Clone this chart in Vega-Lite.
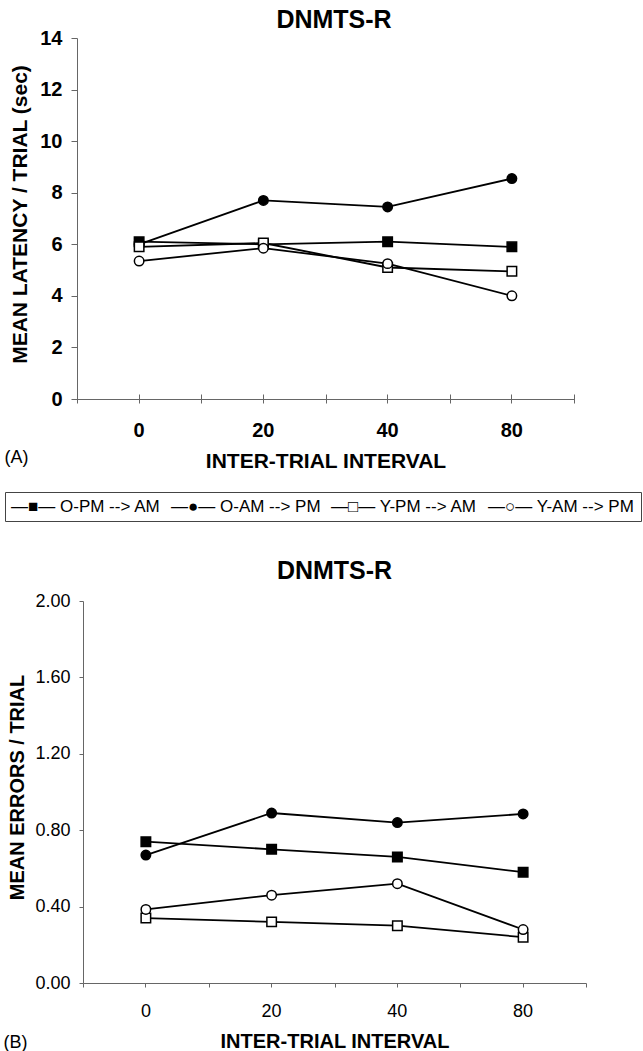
{
  "$schema": "https://vega.github.io/schema/vega-lite/v6.json",
  "padding": {"left": 3, "top": 8, "right": 0, "bottom": 3},
  "background": "white",
  "config": {
    "font": "Liberation Sans",
    "view": {"stroke": null},
    "axis": {"grid": false, "domainColor": "#666666", "tickColor": "#666666", "labelColor": "black", "titleColor": "black", "labelFont": "Liberation Sans", "titleFont": "Liberation Sans"},
    "title": {"font": "Liberation Sans", "fontSize": 25, "fontWeight": "bold", "color": "black"},
    "legend": {"title": null, "orient": "none", "legendX": -78, "legendY": 454, "direction": "horizontal", "symbolSize": 0, "symbolOpacity": 0, "symbolStrokeWidth": 0, "labelOffset": -17, "columnPadding": 10, "padding": 6, "strokeColor": "#444444", "labelFontSize": 17, "labelFont": "Liberation Sans", "labelColor": "black", "labelLimit": 0}
  },
  "datasets": {
    "latency": [
      {"series": "O-PM --> AM", "iti": 0, "value": 6.1},
      {"series": "O-PM --> AM", "iti": 20, "value": 6.0},
      {"series": "O-PM --> AM", "iti": 40, "value": 6.1},
      {"series": "O-PM --> AM", "iti": 80, "value": 5.9},
      {"series": "O-AM --> PM", "iti": 0, "value": 6.0},
      {"series": "O-AM --> PM", "iti": 20, "value": 7.7},
      {"series": "O-AM --> PM", "iti": 40, "value": 7.45},
      {"series": "O-AM --> PM", "iti": 80, "value": 8.55},
      {"series": "Y-PM --> AM", "iti": 0, "value": 5.9},
      {"series": "Y-PM --> AM", "iti": 20, "value": 6.05},
      {"series": "Y-PM --> AM", "iti": 40, "value": 5.1},
      {"series": "Y-PM --> AM", "iti": 80, "value": 4.95},
      {"series": "Y-AM --> PM", "iti": 0, "value": 5.35},
      {"series": "Y-AM --> PM", "iti": 20, "value": 5.85},
      {"series": "Y-AM --> PM", "iti": 40, "value": 5.25},
      {"series": "Y-AM --> PM", "iti": 80, "value": 4.0}
    ],
    "errors": [
      {"series": "O-PM --> AM", "iti": 0, "value": 0.74},
      {"series": "O-PM --> AM", "iti": 20, "value": 0.70},
      {"series": "O-PM --> AM", "iti": 40, "value": 0.66},
      {"series": "O-PM --> AM", "iti": 80, "value": 0.58},
      {"series": "O-AM --> PM", "iti": 0, "value": 0.67},
      {"series": "O-AM --> PM", "iti": 20, "value": 0.89},
      {"series": "O-AM --> PM", "iti": 40, "value": 0.84},
      {"series": "O-AM --> PM", "iti": 80, "value": 0.885},
      {"series": "Y-PM --> AM", "iti": 0, "value": 0.34},
      {"series": "Y-PM --> AM", "iti": 20, "value": 0.32},
      {"series": "Y-PM --> AM", "iti": 40, "value": 0.30},
      {"series": "Y-PM --> AM", "iti": 80, "value": 0.24},
      {"series": "Y-AM --> PM", "iti": 0, "value": 0.385},
      {"series": "Y-AM --> PM", "iti": 20, "value": 0.46},
      {"series": "Y-AM --> PM", "iti": 40, "value": 0.52},
      {"series": "Y-AM --> PM", "iti": 80, "value": 0.28}
    ]
  },
  "spacing": 88,
  "resolve": {"scale": {"x": "independent", "y": "independent", "shape": "shared", "fill": "shared"}},
  "vconcat": [
    {
      "title": {"text": "DNMTS-R", "dx": 5.5, "offset": -5},
      "width": 491,
      "height": 361,
      "data": {"name": "latency"},
      "resolve": {"axis": {"x": "independent"}},
      "layer": [
        {
          "mark": {"type": "line", "color": "black", "strokeWidth": 1.8},
          "encoding": {
            "x": {"field": "iti", "type": "ordinal", "bandPosition": 0.5, "scale": {"type": "band", "paddingInner": 0, "paddingOuter": 0, "range": [-6, 491]},
              "axis": {"orient": "bottom", "domain": true, "ticks": false, "tickSize": 0, "labelAngle": 0, "labelFontSize": 20, "labelFontWeight": "bold", "labelPadding": 21, "title": "INTER-TRIAL INTERVAL", "titleFontSize": 21, "titleFontWeight": "bold", "titlePadding": 10}},
            "y": {"field": "value", "type": "quantitative", "scale": {"domain": [0, 14], "nice": false},
              "axis": {"offset": 6, "values": [0, 2, 4, 6, 8, 10, 12, 14], "labelFontSize": 20, "labelFontWeight": "bold", "tickSize": 6, "labelPadding": 9, "title": "MEAN LATENCY / TRIAL (sec)", "titleFontSize": 21, "titleFontWeight": "bold", "titleX": -57, "titleY": 176, "titleAlign": "center", "titleBaseline": "middle", "titleAngle": -90}},
            "detail": {"field": "series"}
          }
        },
        {
          "mark": {"type": "point", "filled": true, "size": 90, "stroke": "black", "strokeWidth": 1.5, "opacity": 1},
          "encoding": {
            "x": {"field": "iti", "type": "ordinal", "bandPosition": 0.5,
              "axis": {"orient": "bottom", "domain": false, "labels": false, "ticks": true, "tickBand": "center", "tickSize": 9, "offset": -5, "title": null}},
            "y": {"field": "value", "type": "quantitative"},
            "shape": {"field": "series", "type": "nominal", "scale": {"domain": ["O-PM --> AM", "O-AM --> PM", "Y-PM --> AM", "Y-AM --> PM"], "range": ["square", "circle", "square", "circle"]},
              "legend": {"labelExpr": "(datum.label == 'O-PM --> AM' ? '—■— ' : datum.label == 'O-AM --> PM' ? '—●— ' : datum.label == 'Y-PM --> AM' ? '—□— ' : '—○— ') + datum.label"}},
            "fill": {"field": "series", "type": "nominal", "scale": {"domain": ["O-PM --> AM", "O-AM --> PM", "Y-PM --> AM", "Y-AM --> PM"], "range": ["black", "black", "white", "white"]},
              "legend": {"labelExpr": "(datum.label == 'O-PM --> AM' ? '—■— ' : datum.label == 'O-AM --> PM' ? '—●— ' : datum.label == 'Y-PM --> AM' ? '—□— ' : '—○— ') + datum.label"}}
          }
        },
        {
          "mark": {"type": "point", "opacity": 0},
          "encoding": {
            "x": {"field": "iti", "type": "ordinal", "bandPosition": 0.5,
              "axis": {"orient": "bottom", "domain": false, "labels": false, "ticks": true, "tickBand": "extent", "tickSize": 9, "offset": -5, "title": "(A)", "titleFontSize": 18, "titleFontWeight": "normal", "titleX": -79, "titleY": 63, "titleAlign": "left", "titleBaseline": "middle", "titleAngle": 0}},
            "y": {"field": "value", "type": "quantitative"}
          }
        }
      ]
    },
    {
      "title": {"text": "DNMTS-R", "offset": 8},
      "width": 503,
      "height": 382,
      "data": {"name": "errors"},
      "resolve": {"axis": {"x": "independent"}},
      "layer": [
        {
          "mark": {"type": "line", "color": "black", "strokeWidth": 1.8},
          "encoding": {
            "x": {"field": "iti", "type": "ordinal", "bandPosition": 0.5, "scale": {"type": "band", "paddingInner": 0, "paddingOuter": 0},
              "axis": {"orient": "bottom", "domain": true, "ticks": true, "tickBand": "center", "tickSize": 4, "labelAngle": 0, "labelFontSize": 18, "labelFontWeight": "normal", "labelPadding": 15, "title": "INTER-TRIAL INTERVAL", "titleFontSize": 20, "titleFontWeight": "bold", "titlePadding": 11}},
            "y": {"field": "value", "type": "quantitative", "scale": {"domain": [0, 2], "nice": false},
              "axis": {"values": [0, 0.4, 0.8, 1.2, 1.6, 2.0], "format": ".2f", "labelFontSize": 18, "labelFontWeight": "normal", "tickSize": 4, "labelPadding": 9, "title": "MEAN ERRORS / TRIAL", "titleFontSize": 20, "titleFontWeight": "bold", "titleX": -66, "titleY": 186, "titleAlign": "center", "titleBaseline": "middle", "titleAngle": -90}},
            "detail": {"field": "series"}
          }
        },
        {
          "mark": {"type": "point", "filled": true, "size": 90, "stroke": "black", "strokeWidth": 1.5, "opacity": 1},
          "encoding": {
            "x": {"field": "iti", "type": "ordinal", "bandPosition": 0.5,
              "axis": {"orient": "bottom", "domain": false, "labels": false, "ticks": true, "tickBand": "extent", "tickSize": 4, "title": "(B)", "titleFontSize": 18, "titleFontWeight": "normal", "titleX": -80, "titleY": 59, "titleAlign": "left", "titleBaseline": "middle", "titleAngle": 0}},
            "y": {"field": "value", "type": "quantitative"},
            "shape": {"field": "series", "type": "nominal", "scale": {"domain": ["O-PM --> AM", "O-AM --> PM", "Y-PM --> AM", "Y-AM --> PM"], "range": ["square", "circle", "square", "circle"]},
              "legend": {"labelExpr": "(datum.label == 'O-PM --> AM' ? '—■— ' : datum.label == 'O-AM --> PM' ? '—●— ' : datum.label == 'Y-PM --> AM' ? '—□— ' : '—○— ') + datum.label"}},
            "fill": {"field": "series", "type": "nominal", "scale": {"domain": ["O-PM --> AM", "O-AM --> PM", "Y-PM --> AM", "Y-AM --> PM"], "range": ["black", "black", "white", "white"]},
              "legend": {"labelExpr": "(datum.label == 'O-PM --> AM' ? '—■— ' : datum.label == 'O-AM --> PM' ? '—●— ' : datum.label == 'Y-PM --> AM' ? '—□— ' : '—○— ') + datum.label"}}
          }
        }
      ]
    }
  ]
}
